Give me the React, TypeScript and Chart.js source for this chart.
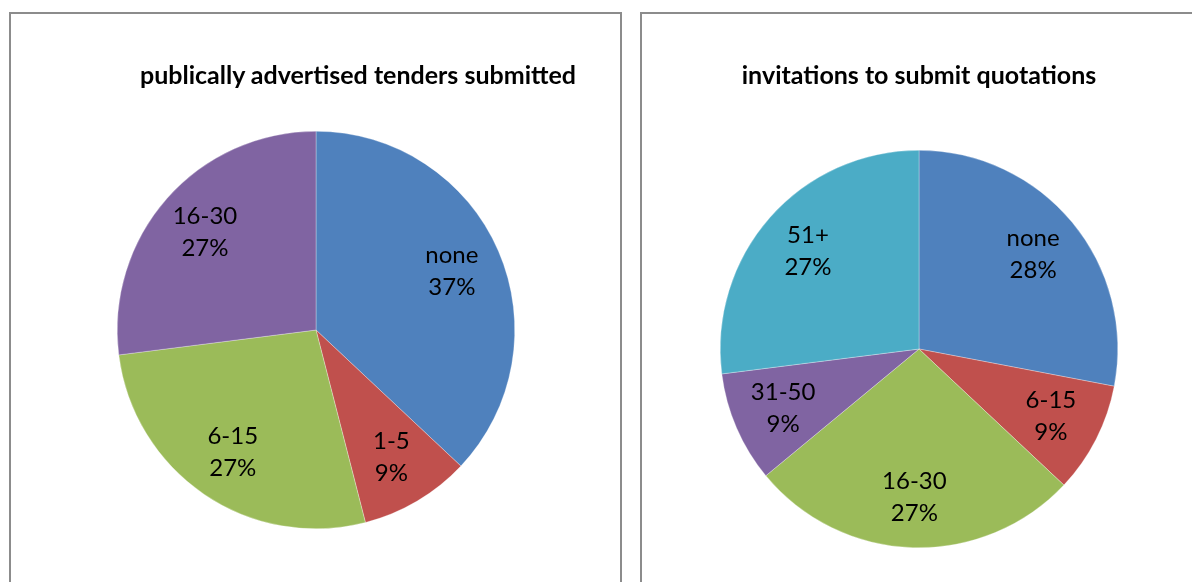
import React, { useEffect, useRef } from "react";
import { Chart, registerables } from "chart.js";

Chart.register(...registerables);

const leftTitle = "publically advertised tenders submitted";
const leftCategories = ["none", "1-5", "6-15", "16-30"];
const leftValues = [37, 9, 27, 27];
const leftColors = ["#4F81BD", "#C0504D", "#9BBB59", "#8064A2"];

const rightTitle = "invitations to submit quotations";
const rightCategories = ["none", "6-15", "16-30", "31-50", "51+"];
const rightValues = [28, 9, 27, 9, 27];
const rightColors = ["#4F81BD", "#C0504D", "#9BBB59", "#8064A2", "#4BACC6"];

const FONT = "Lato, 'Noto Sans', sans-serif";

const sliceLabels = {
  id: "sliceLabels",
  afterDatasetsDraw(chart: any) {
    const ctx = chart.ctx;
    const meta = chart.getDatasetMeta(0);
    const ds = chart.data.datasets[0];
    const total = (ds.data as number[]).reduce((a, b) => a + b, 0);
    ctx.save();
    ctx.fillStyle = "#000";
    ctx.font = `24px ${FONT}`;
    ctx.textAlign = "center";
    ctx.textBaseline = "middle";
    meta.data.forEach((arc: any, i: number) => {
      const { x, y, startAngle, endAngle, outerRadius } = arc.getProps(
        ["x", "y", "startAngle", "endAngle", "outerRadius"],
        true
      );
      const mid = (startAngle + endAngle) / 2;
      const r = outerRadius * 0.745;
      const cx = x + Math.cos(mid) * r;
      const cy = y + Math.sin(mid) * r;
      const pct = Math.round((ds.data[i] / total) * 100) + "%";
      ctx.fillText(String(chart.data.labels[i]), cx, cy - 16);
      ctx.fillText(pct, cx, cy + 16);
    });
    ctx.restore();
  },
};

function PiePanel(props: {
  left: number;
  width: number;
  title: string;
  titleX: number;
  labels: string[];
  values: number[];
  colors: string[];
  padding: { left: number; right: number; top: number; bottom: number };
}) {
  const ref = useRef<HTMLCanvasElement | null>(null);
  useEffect(() => {
    if (!ref.current) return;
    const chart = new Chart(ref.current, {
      type: "pie",
      data: {
        labels: props.labels,
        datasets: [
          {
            data: props.values,
            backgroundColor: props.colors,
            borderColor: "rgba(255,255,255,0.6)",
            borderWidth: 0.5,
          },
        ],
      },
      options: {
        responsive: false,
        animation: false,
        layout: { padding: props.padding },
        plugins: {
          legend: { display: false },
          title: { display: false },
          tooltip: { enabled: false },
        },
      },
      plugins: [sliceLabels],
    });
    return () => chart.destroy();
  }, []);
  const innerW = props.width - 4;
  const innerH = 596;
  return (
    <div
      style={{
        position: "absolute",
        left: props.left,
        top: 12,
        width: props.width,
        height: 600,
        boxSizing: "border-box",
        border: "2px solid #8c8c8c",
        background: "#fff",
      }}
    >
      <canvas
        ref={ref}
        width={innerW}
        height={innerH}
        style={{ position: "absolute", left: 0, top: 0, width: innerW, height: innerH }}
      />
      <div
        style={{
          position: "absolute",
          left: props.titleX,
          top: 60,
          transform: "translate(-50%, -50%)",
          whiteSpace: "nowrap",
          fontFamily: FONT,
          fontWeight: 700,
          fontSize: 25,
          color: "#000",
        }}
      >
        {props.title}
      </div>
    </div>
  );
}

export default function App() {
  return (
    <div
      style={{
        position: "fixed",
        left: 0,
        top: 0,
        width: 1192,
        height: 582,
        overflow: "hidden",
        background: "#fff",
      }}
    >
      <PiePanel
        left={9}
        width={613}
        title={leftTitle}
        titleX={347}
        labels={leftCategories}
        values={leftValues}
        colors={leftColors}
        padding={{ left: 106, right: 105, top: 117, bottom: 81 }}
      />
      <PiePanel
        left={640}
        width={600}
        title={rightTitle}
        titleX={277}
        labels={rightCategories}
        values={rightValues}
        colors={rightColors}
        padding={{ left: 78, right: 120, top: 136, bottom: 62 }}
      />
    </div>
  );
}
